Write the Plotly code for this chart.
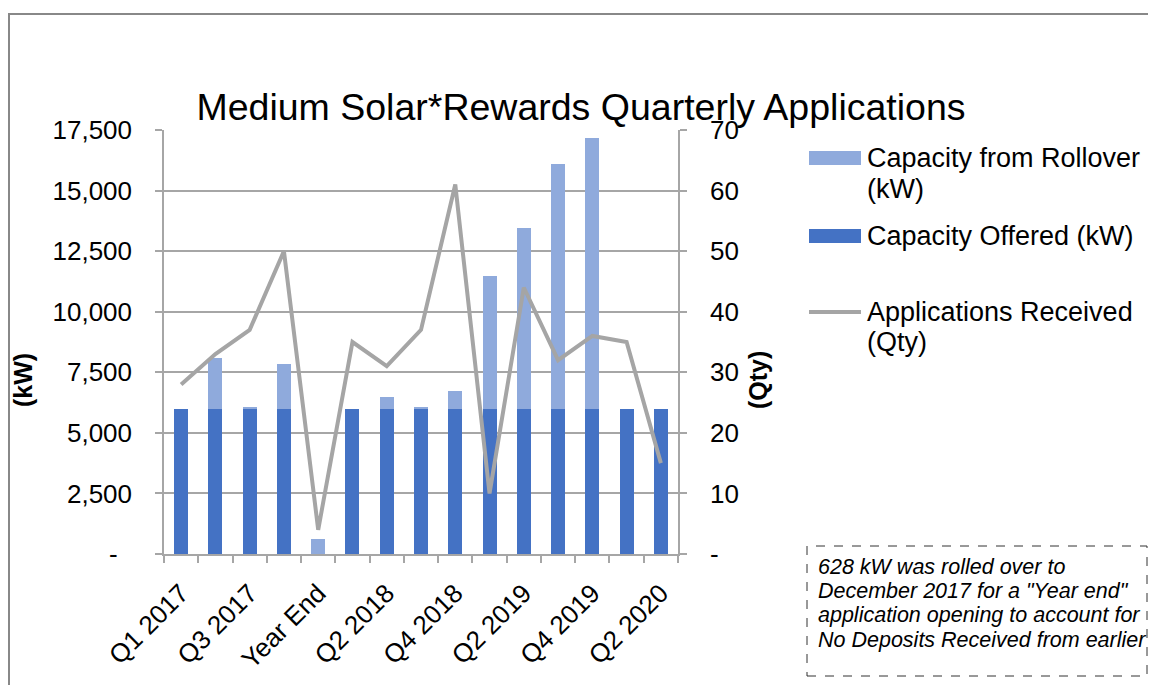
import plotly.graph_objects as go

# quarterly data
quarters = ["Q1 2017", "Q2 2017", "Q3 2017", "Q4 2017", "Year End",
            "Q1 2018", "Q2 2018", "Q3 2018", "Q4 2018",
            "Q1 2019", "Q2 2019", "Q3 2019", "Q4 2019",
            "Q1 2020", "Q2 2020"]
capacity_offered = [6000, 6000, 6000, 6000, 0, 6000, 6000, 6000, 6000,
                    6000, 6000, 6000, 6000, 6000, 6000]
capacity_rollover = [0, 2075, 50, 1830, 628, 0, 480, 70, 730,
                     5470, 7460, 10090, 11150, 0, 0]
applications = [28, 33, 37, 50, 4, 35, 31, 37, 61, 10, 44, 32, 36, 35, 15]

# only every other category is labelled
x_tick_text = [q if i % 2 == 0 else "" for i, q in enumerate(quarters)]
kw_ticks = [0, 2500, 5000, 7500, 10000, 12500, 15000, 17500]
kw_tick_text = ["-\u00a0\u00a0", "2,500", "5,000", "7,500", "10,000",
                "12,500", "15,000", "17,500"]
qty_ticks = [0, 10, 20, 30, 40, 50, 60, 70]
qty_tick_text = ["-", "10", "20", "30", "40", "50", "60", "70"]

note_lines = [
    "628 kW was rolled over to",
    'December 2017 for a "Year end"',
    "application opening to account for",
    "No Deposits Received from earlier",
]

OFF = 8  # page body margin; positions below are page pixels
W, H = 1156 - 2 * OFF, 693 - 2 * OFF  # keep the page free of scrollbars
L, T = 164 - OFF, 130 - OFF
R, B = W - (678 - OFF), H - (554 - OFF)
PW, PH = W - L - R, H - T - B
FONT = "Liberation Sans, Arial, sans-serif"
GRID = "#A6A6A6"
DARK = "#4472C4"
LIGHT = "#8FAADC"
LINE = "#A5A5A5"


def px(x):
    return (x - OFF - L) / PW


def py(y):
    return (H - B - (y - OFF)) / PH


fig = go.Figure()
fig.add_trace(go.Bar(x=quarters, y=capacity_offered, name="Capacity Offered (kW)",
                     marker=dict(color=DARK, line=dict(width=0))))
fig.add_trace(go.Bar(x=quarters, y=capacity_rollover, name="Capacity from Rollover (kW)",
                     marker=dict(color=LIGHT, line=dict(width=0))))
fig.add_trace(go.Scatter(x=quarters, y=applications, yaxis="y2", mode="lines",
                         name="Applications Received (Qty)",
                         line=dict(color=LINE, width=4)))

shapes = []
annotations = []

# outer frame (top and left edge visible)
shapes.append(dict(type="rect", xref="paper", yref="paper",
                   x0=px(OFF + 1), x1=px(1200), y0=py(750), y1=py(14),
                   line=dict(color="#888888", width=2)))

# axis titles
for txt, x in [("<b>(kW)</b>", 23), ("<b>(Qty)</b>", 758)]:
    annotations.append(dict(text=txt, xref="paper", yref="paper",
                            x=px(x), y=py(380), xanchor="center", yanchor="middle",
                            textangle=-90, showarrow=False,
                            font=dict(size=25, family=FONT, color="black")))

# legend drawn by hand to copy the Excel look
leg_font = dict(size=27, family=FONT, color="black")
shapes.append(dict(type="rect", xref="paper", yref="paper", x0=px(809), x1=px(861),
                   y0=py(165), y1=py(151), fillcolor=LIGHT, line=dict(width=0)))
shapes.append(dict(type="rect", xref="paper", yref="paper", x0=px(809), x1=px(861),
                   y0=py(243), y1=py(229), fillcolor=DARK, line=dict(width=0)))
shapes.append(dict(type="line", xref="paper", yref="paper", x0=px(809), x1=px(861),
                   y0=py(312), y1=py(312), line=dict(color=LINE, width=4)))
for txt, y in [("Capacity from Rollover", 158), ("(kW)", 189),
               ("Capacity Offered (kW)", 236),
               ("Applications Received", 312), ("(Qty)", 342)]:
    annotations.append(dict(text=txt, xref="paper", yref="paper", x=px(865), y=py(y),
                            xanchor="left", yanchor="middle", showarrow=False,
                            font=leg_font))

# note box
shapes.append(dict(type="rect", xref="paper", yref="paper", x0=px(807), x1=px(1147),
                   y0=py(676), y1=py(546), line=dict(color="#333333", width=1, dash="dash")))
for i, line in enumerate(note_lines):
    annotations.append(dict(text="<i>" + line + "</i>", xref="paper", yref="paper",
                            x=px(816), y=py(567 + 24.2 * i), xanchor="left",
                            yanchor="middle", showarrow=False,
                            font=dict(size=21.5, family=FONT, color="black")))

fig.update_layout(
    width=W, height=H,
    margin=dict(l=L, r=R, t=T, b=B),
    paper_bgcolor="white", plot_bgcolor="white",
    barmode="stack", bargap=0.59,
    showlegend=False,
    font=dict(family=FONT, color="black", size=26),
    title=dict(text="Medium Solar*Rewards Quarterly Applications",
               x=(581 - OFF) / W, xref="container", xanchor="center",
               y=1 - (107 - OFF) / H, yanchor="middle",
               font=dict(size=37.5, family=FONT, color="black")),
    xaxis=dict(type="category", tickmode="array", tickvals=quarters,
               ticktext=x_tick_text, tickangle=-45, ticks="outside",
               tickson="boundaries", ticklen=7, tickcolor=GRID, tickwidth=1.5,
               showline=True, linecolor=GRID, linewidth=1.5, showgrid=False,
               ticklabelstandoff=12,
               tickfont=dict(size=26, family=FONT, color="black")),
    yaxis=dict(range=[0, 17500], tickmode="array", tickvals=kw_ticks,
               ticktext=kw_tick_text, ticks="outside", ticklen=7,
               tickcolor=GRID, tickwidth=1.5, showline=True, linecolor=GRID,
               linewidth=1.5, showgrid=True, gridcolor=GRID, gridwidth=1.5,
               zeroline=False, ticklabelstandoff=18,
               tickfont=dict(size=26, family=FONT, color="black")),
    yaxis2=dict(range=[0, 70], overlaying="y", side="right", tickmode="array",
                tickvals=qty_ticks, ticktext=qty_tick_text, ticks="outside",
                ticklen=7, tickcolor=GRID, tickwidth=1.5, showline=True,
                linecolor=GRID, linewidth=1.5, showgrid=False, zeroline=False,
                ticklabelstandoff=18,
                tickfont=dict(size=26, family=FONT, color="black")),
    shapes=shapes,
    annotations=annotations,
)

fig.write_html("out.html")
